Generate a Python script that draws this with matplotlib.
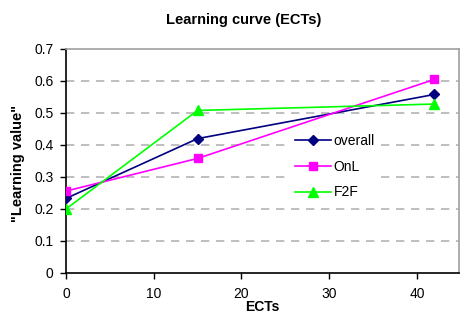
import matplotlib
matplotlib.use("Agg")
import matplotlib.pyplot as plt

ects = [0, 15, 42]
overall = [0.233, 0.420, 0.558]
onl = [0.256, 0.358, 0.605]
f2f = [0.200, 0.508, 0.528]
yticks = [0, 0.1, 0.2, 0.3, 0.4, 0.5, 0.6, 0.7]
ytick_labels = ["0", "0.1", "0.2", "0.3", "0.4", "0.5", "0.6", "0.7"]
xticks = [0, 10, 20, 30, 40]

plt.rcParams['font.family'] = ['Liberation Sans', 'DejaVu Sans']

fig = plt.figure(figsize=(4.61, 3.13), dpi=100)
ax = fig.add_axes([66/461, 1-273/313, 393/461, 224/313])

ax.plot(ects, overall, color='#000080', marker='D', markersize=5.5, lw=1.2, label='overall', zorder=3)
ax.plot(ects, onl, color='#FF00FF', marker='s', markersize=6, lw=1.2, label='OnL', zorder=3)
ax.plot(ects, f2f, color='#00FF00', marker='^', markersize=7, lw=1.2, label='F2F', zorder=3)

ax.set_xlim(0, 44.8)
ax.set_ylim(0, 0.7)
ax.set_yticks(yticks)
ax.set_yticklabels(ytick_labels)
ax.set_xticks(xticks)
ax.tick_params(axis='both', direction='out', length=4, width=1, labelsize=10, colors='black')
ax.tick_params(axis='x', pad=6)
ax.tick_params(axis='y', pad=5)

for y in yticks[1:-1]:
    ax.axhline(y, color='#b4b4b4', lw=1.2, ls=(0, (5, 4)), zorder=1)

for s in ['top', 'right']:
    ax.spines[s].set_color('#a0a0a0')
    ax.spines[s].set_linewidth(1.2)
for s in ['left', 'bottom']:
    ax.spines[s].set_color('black')
    ax.spines[s].set_linewidth(1.2)

fig.text(244/461, 1-20/313, 'Learning curve (ECTs)', fontsize=10.5, fontweight='bold',
         ha='center', va='center')
fig.text(18/461, 1-163/313, '"Learning value"', fontsize=10.5, fontweight='bold',
         ha='center', va='center', rotation=90)
fig.text(262/461, 1-307/313, 'ECTs', fontsize=10, fontweight='bold',
         ha='center', va='center')

leg = ax.legend(loc='upper left', bbox_to_anchor=(0.571, 0.64), borderaxespad=0,
                frameon=True, fancybox=False, framealpha=1, facecolor='white',
                edgecolor='none', fontsize=10, labelspacing=0.85, handlelength=2.6,
                handletextpad=0.2, borderpad=0.3)
leg.set_zorder(5)

fig.savefig('out.png', dpi=100)
